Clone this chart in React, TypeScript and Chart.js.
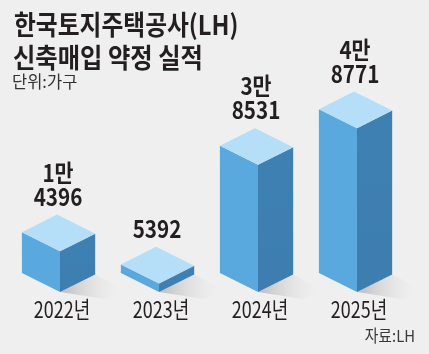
import React, { useEffect, useRef } from "react";
import { Chart, registerables } from "chart.js";

Chart.register(...registerables);

const titleLines = ["한국토지주택공사(LH)", "신축매입 약정 실적"];
const unitLabel = "단위:가구";
const sourceLabel = "자료:LH";
const years = ["2022년", "2023년", "2024년", "2025년"];
const values = [14396, 5392, 38531, 48771];

const FONT = '"Noto Sans CJK KR", "Noto Sans", sans-serif';
const BG = "#efefef";
const TEXT = "#231f20";

function koreanLines(v: number): string[] {
  const man = Math.floor(v / 10000);
  const rest = v % 10000;
  return man > 0 ? [`${man}만`, `${rest}`] : [`${rest}`];
}

function drawText(
  ctx: CanvasRenderingContext2D,
  text: string,
  x: number,
  y: number,
  font: string,
  color: string,
  align: CanvasTextAlign,
  sx: number
) {
  ctx.save();
  ctx.font = font;
  ctx.fillStyle = color;
  ctx.textBaseline = "middle";
  ctx.textAlign = align;
  ctx.translate(x, y);
  ctx.scale(sx, 1);
  ctx.fillText(text, 0, 0);
  ctx.restore();
}

function poly(ctx: CanvasRenderingContext2D, pts: number[][], fill: string | CanvasGradient) {
  ctx.beginPath();
  ctx.moveTo(pts[0][0], pts[0][1]);
  for (let i = 1; i < pts.length; i++) ctx.lineTo(pts[i][0], pts[i][1]);
  ctx.closePath();
  ctx.fillStyle = fill;
  ctx.fill();
}

const isoPlugin = {
  id: "iso",
  beforeDraw(chart: any) {
    const ctx = chart.ctx as CanvasRenderingContext2D;
    ctx.save();
    ctx.fillStyle = BG;
    ctx.fillRect(0, 0, chart.width, chart.height);
    ctx.restore();
  },
  afterDatasetsDraw(chart: any) {
    const ctx = chart.ctx as CanvasRenderingContext2D;
    const meta = chart.getDatasetMeta(0);
    const ys = chart.scales.y;
    const xs = chart.scales.x;
    const basePx = ys.getPixelForValue(ys.min);

    meta.data.forEach((bar: any, i: number) => {
      const { x: cx, y: top, width: w } = bar.getProps(["x", "y", "width"], true);
      const xF = cx;
      const xL = cx - w * 0.52;
      const xR = cx + w * 0.48;
      const dL = (xF - xL) * 0.5;
      const dR = (xR - xF) * 0.5;

      // floor shadow
      const g = ctx.createLinearGradient(xF, basePx, xR + 30, basePx);
      g.addColorStop(0, "rgba(170,170,170,0.75)");
      g.addColorStop(1, "rgba(239,239,239,0)");
      poly(ctx, [[xF, basePx], [xR, basePx - dR], [xR + 30, basePx - 2], [xF + 45, basePx + 7]], g);

      // left face
      poly(ctx, [[xL, top - dL], [xF, top], [xF, basePx], [xL, basePx - dL]], "#5aa9de");
      // right face
      const gr = ctx.createLinearGradient(0, top, 0, basePx);
      gr.addColorStop(0, "#3f80b3");
      gr.addColorStop(1, "#3d7db0");
      poly(ctx, [[xF, top], [xR, top - dR], [xR, basePx - dR], [xF, basePx]], gr);
      // top face
      poly(ctx, [[xL, top - dL], [xL + (xR - xF), top - dL - dR], [xR, top - dR], [xF, top]], "#b5def8");

      // value labels
      const lines = koreanLines(values[i]);
      const topCorner = top - dL - dR;
      for (let k = 0; k < lines.length; k++) {
        const fromBottom = lines.length - 1 - k;
        drawText(ctx, lines[k], xF - 2, topCorner - 18 - fromBottom * 24, `bold 24px ${FONT}`, TEXT, "center", 0.86);
      }
    });

    // category labels
    years.forEach((lab, i) => {
      drawText(ctx, lab, xs.getPixelForValue(i) + 2, 309, `23px ${FONT}`, TEXT, "center", 0.78);
    });

    // title, unit, source
    drawText(ctx, titleLines[0], 14, 25, `bold 27px ${FONT}`, TEXT, "left", 0.88);
    drawText(ctx, titleLines[1], 13, 58, `bold 27px ${FONT}`, TEXT, "left", 0.9);
    drawText(ctx, unitLabel, 12, 82, `16.5px ${FONT}`, "#333333", "left", 1);
    drawText(ctx, sourceLabel, 415, 336, `16.5px ${FONT}`, "#3a3a3a", "right", 0.9);
  },
};

export default function App() {
  const ref = useRef<HTMLCanvasElement | null>(null);
  useEffect(() => {
    document.body.style.margin = "0";
    document.body.style.background = BG;
    const canvas = ref.current;
    if (!canvas) return;
    const chart = new Chart(canvas, {
      type: "bar",
      data: {
        labels: years,
        datasets: [
          {
            data: values,
            backgroundColor: "rgba(0,0,0,0)",
            borderWidth: 0,
            barPercentage: 0.74,
            categoryPercentage: 1,
          },
        ],
      },
      options: {
        animation: false,
        responsive: false,
        devicePixelRatio: 1,
        layout: { padding: { left: 10.5, right: 22.5, top: 88, bottom: 62 } },
        plugins: { legend: { display: false }, tooltip: { enabled: false }, title: { display: false } },
        scales: {
          x: { display: false },
          y: { display: false, min: 3000, max: 60000 },
        },
      },
      plugins: [isoPlugin],
    });
    return () => chart.destroy();
  }, []);
  return (
    <div style={{ width: 429, height: 354, background: BG }}>
      <canvas ref={ref} width={429} height={354} style={{ display: "block" }} />
    </div>
  );
}
